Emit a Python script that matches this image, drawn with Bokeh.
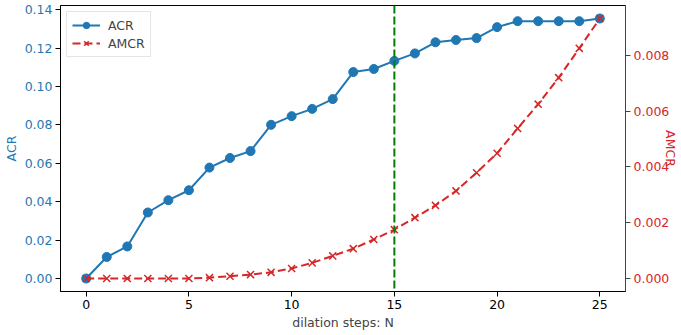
from bokeh.plotting import figure
from bokeh.models import Range1d, LinearAxis, FixedTicker, NumeralTickFormatter, Span
from bokeh.embed import file_html
from bokeh.resources import INLINE

steps = list(range(26))
acr = [0.0, 0.0112, 0.0167, 0.0344, 0.0408, 0.0460, 0.0578, 0.0628, 0.0664, 0.0801,
       0.0846, 0.0884, 0.0935, 0.1076, 0.1092, 0.1134, 0.1173, 0.1231, 0.1243, 0.1253,
       0.1310, 0.1341, 0.1341, 0.1341, 0.1341, 0.1355]
amcr = [0.0, 0.0, 0.0, 0.0, 0.0, 0.0, 0.00003, 0.00008, 0.00014, 0.00022,
        0.00036, 0.00056, 0.00081, 0.00107, 0.00140, 0.00175, 0.00218, 0.00262, 0.00314, 0.00379,
        0.00449, 0.00538, 0.00625, 0.00720, 0.00825, 0.00932]
threshold_step = 15
x_ticks = [0, 5, 10, 15, 20, 25]
acr_ticks = [0.0, 0.02, 0.04, 0.06, 0.08, 0.10, 0.12, 0.14]
amcr_ticks = [0.0, 0.002, 0.004, 0.006, 0.008]

BLUE = "#1f77b4"
RED = "#d62728"
FONT = "DejaVu Sans"
FS = "12.5px"

W, H = 681, 335
BL, BR, BT, BB = 60, 56, 5, 44

xpad = (max(steps) - min(steps)) * 0.05
apad = (max(acr) - min(acr)) * 0.05
mpad = (max(amcr) - min(amcr)) * 0.05

p = figure(width=W, height=H, output_backend="svg", toolbar_location=None,
           x_range=Range1d(min(steps) - xpad, max(steps) + xpad),
           y_range=Range1d(min(acr) - apad, max(acr) + apad),
           min_border_left=BL, min_border_right=BR, min_border_top=BT, min_border_bottom=BB)
p.extra_y_ranges = {"amcr": Range1d(min(amcr) - mpad, max(amcr) + mpad)}
p.xgrid.visible = False
p.ygrid.visible = False
p.outline_line_color = "black"
p.outline_line_width = 1
p.background_fill_color = "white"
p.border_fill_color = "white"

def style(ax, color_labels, color_line="black"):
    ax.major_tick_out = 5
    ax.major_tick_in = 0
    ax.minor_tick_line_color = None
    ax.major_label_text_font = FONT
    ax.major_label_text_font_size = FS
    ax.major_label_text_color = color_labels
    ax.axis_label_text_font = FONT
    ax.axis_label_text_font_size = FS
    ax.axis_label_text_font_style = "normal"
    ax.axis_line_color = color_line
    ax.major_tick_line_color = color_line
    ax.major_label_standoff = 3
    ax.axis_label_standoff = 3

xa = p.xaxis[0]
xa.ticker = FixedTicker(ticks=x_ticks)
xa.axis_label = "dilation steps: N"
style(xa, "black")

ya = p.yaxis[0]
ya.ticker = FixedTicker(ticks=acr_ticks)
ya.formatter = NumeralTickFormatter(format="0.00")
ya.axis_label = "ACR"
style(ya, BLUE)
ya.axis_label_text_color = BLUE

ra = LinearAxis(y_range_name="amcr")
ra.ticker = FixedTicker(ticks=amcr_ticks)
ra.formatter = NumeralTickFormatter(format="0.000")
ra.axis_label = "AMCR"
style(ra, RED, "#444444")
ra.axis_label_text_color = RED
ra.axis_label_standoff = -9
p.add_layout(ra, "right")

p.line(steps, acr, line_color=BLUE, line_width=2, legend_label="ACR")
p.scatter(steps, acr, marker="circle", size=9, fill_color=BLUE, line_color=BLUE, legend_label="ACR")

p.add_layout(Span(location=threshold_step, dimension="height", line_color="green",
                  line_dash="8 3", line_width=2))

p.line(steps, amcr, line_color=RED, line_width=2, line_dash="8 4", y_range_name="amcr", legend_label="AMCR")
p.scatter(steps, amcr, marker="x", size=10, line_color=RED, line_width=1.5, y_range_name="amcr", legend_label="AMCR")

lg = p.legend[0]
lg.location = "top_left"
lg.margin = 6
lg.padding = 5
lg.spacing = 2
lg.glyph_width = 28
lg.glyph_height = 16
lg.label_standoff = 8
lg.label_text_font = FONT
lg.label_text_font_size = FS
lg.border_line_color = "#cccccc"
lg.background_fill_alpha = 0.8

open("out.html", "w").write(file_html(p, INLINE))
